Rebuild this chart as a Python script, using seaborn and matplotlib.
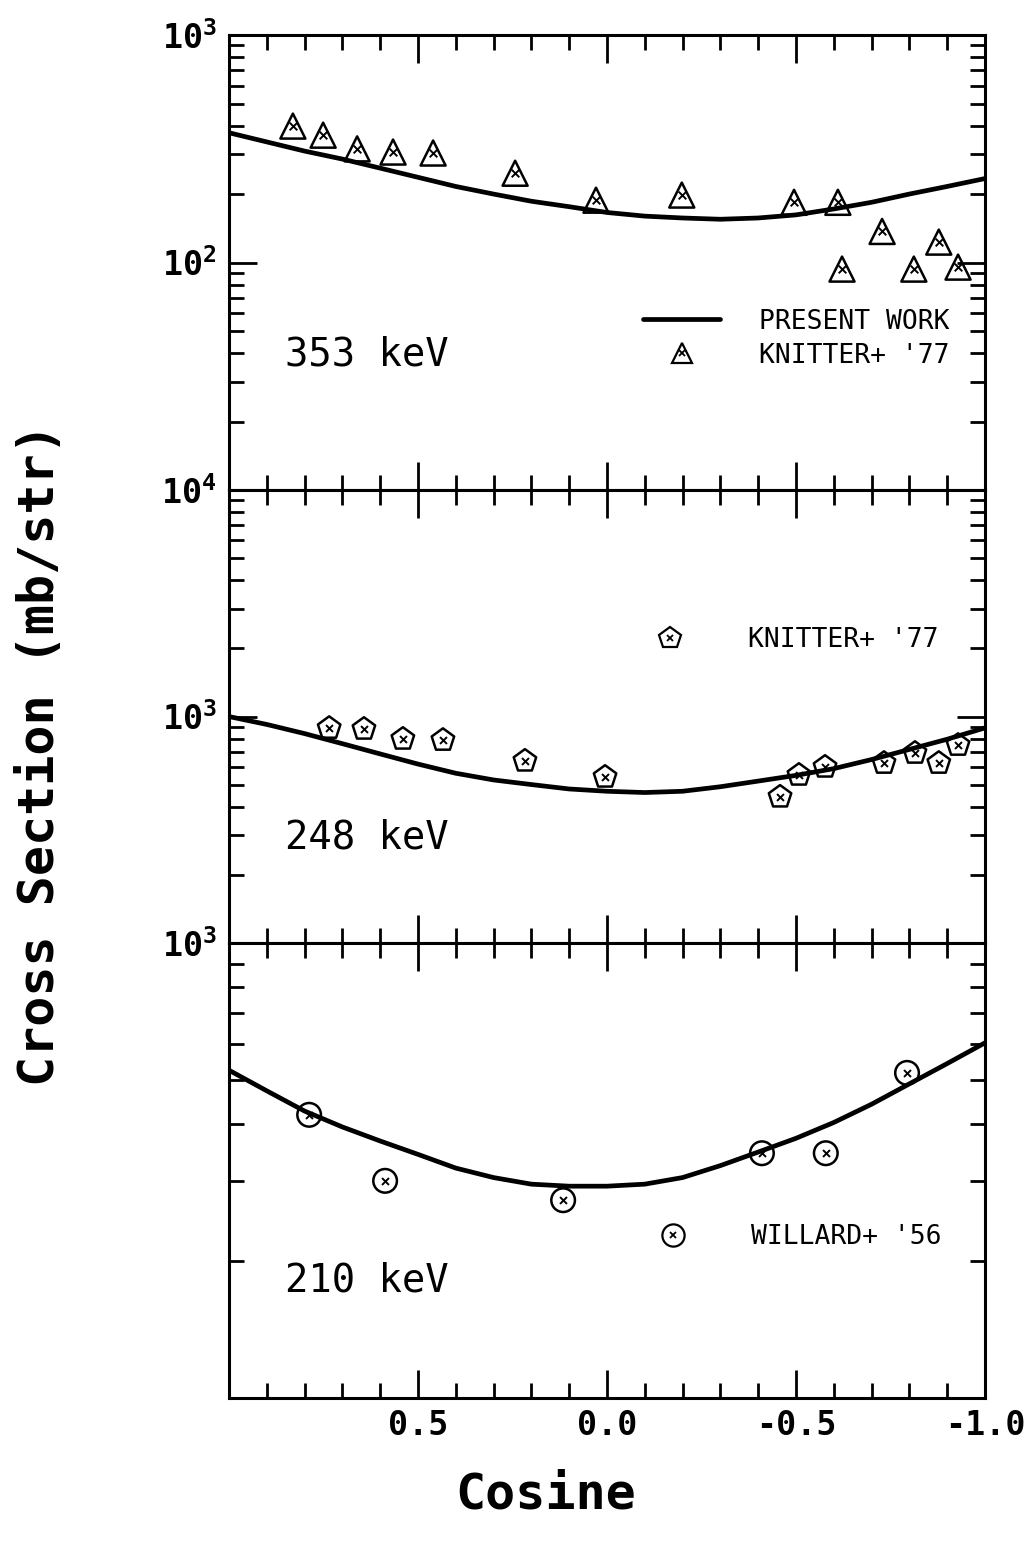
import matplotlib
matplotlib.use("Agg")
import matplotlib.pyplot as plt
import seaborn as sns
from matplotlib.lines import Line2D
from matplotlib.legend_handler import HandlerTuple
from matplotlib.ticker import MultipleLocator, LogLocator, NullFormatter

# ---- data ----
cosine_grid = [1.0, 0.9, 0.8, 0.7, 0.6, 0.5, 0.4, 0.3, 0.2, 0.1, 0.0,
               -0.1, -0.2, -0.3, -0.4, -0.5, -0.6, -0.7, -0.8, -0.9, -1.0]

curve_353 = [372, 339, 309, 285, 260, 237, 216, 200, 186, 176, 166,
             160, 157, 155, 157, 162, 172, 184, 200, 216, 234]
curve_248 = [1000, 923, 841, 759, 684, 617, 562, 525, 501, 479, 468,
             462, 468, 490, 519, 550, 589, 646, 716, 794, 891]
curve_210 = [525, 473, 427, 394, 367, 343, 320, 305, 295, 292, 292,
             295, 305, 324, 347, 372, 403, 442, 490, 543, 603]

knitter_353_cos = [0.831, 0.751, 0.661, 0.566, 0.460, 0.243, 0.029, -0.198,
                   -0.495, -0.611, -0.622, -0.728, -0.812, -0.878, -0.929]
knitter_353_val = [398, 363, 316, 306, 303, 247, 188, 198,
                   184, 184, 93.6, 137, 93.6, 123, 95.5]

knitter_248_cos = [0.735, 0.643, 0.540, 0.434, 0.217, 0.005, -0.458,
                   -0.508, -0.577, -0.733, -0.815, -0.878, -0.929]
knitter_248_val = [889, 881, 796, 787, 637, 541, 442,
                   552, 599, 623, 690, 623, 748]

willard_210_cos = [0.788, 0.587, 0.116, -0.410, -0.579, -0.794]
willard_210_val = [419, 300, 272, 345, 345, 518]

xtick_vals = [1.0, 0.5, 0.0, -0.5, -1.0]
xtick_labels = ["", "0.5", "0.0", "-0.5", "-1.0"]

sns.set_style("ticks")
plt.rcParams.update({
    "font.family": ["DejaVu Sans Mono", "DejaVu Sans"],
    "mathtext.fontset": "custom",
    "mathtext.tt": "DejaVu Sans Mono:bold",
    "mathtext.rm": "DejaVu Sans Mono:bold",
    "axes.linewidth": 2.2,
    "text.color": "black",
    "xtick.color": "black",
    "ytick.color": "black",
    "axes.labelcolor": "black",
})

fig = plt.figure(figsize=(10.27, 15.44), dpi=100)
left, width = 0.223, 0.736
ax_top = fig.add_axes([left, 0.6826, width, 0.2947])
ax_mid = fig.add_axes([left, 0.3892, width, 0.2934])
ax_bot = fig.add_axes([left, 0.0946, width, 0.2947])

lw_curve = 3.4
mk_kw = dict(color="none", edgecolor="black", linewidth=1.8, zorder=3, legend=False)
x_kw = dict(color="black", linewidth=1.4, zorder=4, legend=False)


def style_axis(ax, ylim):
    ax.set_yscale("log")
    ax.set_ylim(*ylim)
    ax.set_xlim(1.0, -1.0)
    ax.xaxis.set_major_locator(MultipleLocator(0.5))
    ax.xaxis.set_minor_locator(MultipleLocator(0.1))
    ax.yaxis.set_minor_locator(LogLocator(base=10, subs=range(2, 10)))
    ax.yaxis.set_minor_formatter(NullFormatter())
    ax.tick_params(which="both", direction="in", top=True, right=True,
                   width=2.0, colors="black")
    ax.tick_params(which="major", length=20)
    ax.tick_params(which="minor", length=11)
    ax.tick_params(axis="y", which="major", length=20, pad=9, labelsize=24)
    ax.set_xlabel("")
    ax.set_ylabel("")
    for s in ax.spines.values():
        s.set_linewidth(2.2)
        s.set_color("black")


# ---- 353 keV ----
sns.lineplot(x=cosine_grid, y=curve_353, ax=ax_top, color="black",
             linewidth=lw_curve, sort=False)
sns.scatterplot(x=knitter_353_cos, y=knitter_353_val, ax=ax_top,
                marker="^", s=18 ** 2, **mk_kw)
sns.scatterplot(x=knitter_353_cos, y=knitter_353_val, ax=ax_top,
                marker="x", s=30, **x_kw)
style_axis(ax_top, (10, 1000))
ax_top.set_yticks([1000, 100, 10], [r"$\mathtt{10^{3}}$", r"$\mathtt{10^{2}}$",
                                    r"$\mathtt{10^{4}}$"])
ax_top.set_xticks(xtick_vals, [""] * 5)
ax_top.text(0.074, 0.297, "353 keV", transform=ax_top.transAxes,
            fontsize=28, va="center", ha="left")
h_line = Line2D([], [], color="black", linewidth=lw_curve)
h_tri = (Line2D([], [], marker="^", ls="none", ms=15, mfc="none", mec="black", mew=1.6),
         Line2D([], [], marker="x", ls="none", ms=5, color="black", mew=1.3))
ax_top.legend([h_line, h_tri], ["PRESENT WORK", "KNITTER+ '77"],
              handler_map={tuple: HandlerTuple(ndivide=1)},
              loc="center left", bbox_to_anchor=(0.548, 0.333),
              frameon=False, fontsize=19, handlelength=2.9,
              handletextpad=1.5, labelspacing=0.3, borderpad=0, borderaxespad=0)

# ---- 248 keV ----
sns.lineplot(x=cosine_grid, y=curve_248, ax=ax_mid, color="black",
             linewidth=lw_curve, sort=False)
sns.scatterplot(x=knitter_248_cos, y=knitter_248_val, ax=ax_mid,
                marker="p", s=17 ** 2, **mk_kw)
sns.scatterplot(x=knitter_248_cos, y=knitter_248_val, ax=ax_mid,
                marker="x", s=25, **x_kw)
style_axis(ax_mid, (100, 10000))
ax_mid.set_yticks([10000, 1000, 100], ["", r"$\mathtt{10^{3}}$",
                                       r"$\mathtt{10^{3}}$"])
ax_mid.set_xticks(xtick_vals, [""] * 5)
ax_mid.text(0.074, 0.232, "248 keV", transform=ax_mid.transAxes,
            fontsize=28, va="center", ha="left")
h_pent = (Line2D([], [], marker="p", ls="none", ms=16, mfc="none", mec="black", mew=1.6),
          Line2D([], [], marker="x", ls="none", ms=5, color="black", mew=1.3))
ax_mid.legend([h_pent], ["KNITTER+ '77"],
              handler_map={tuple: HandlerTuple(ndivide=1)},
              loc="center left", bbox_to_anchor=(0.533, 0.669),
              frameon=False, fontsize=19, handlelength=2.9,
              handletextpad=1.5, borderpad=0, borderaxespad=0)

# ---- 210 keV ----
sns.lineplot(x=cosine_grid, y=curve_210, ax=ax_bot, color="black",
             linewidth=lw_curve, sort=False)
sns.scatterplot(x=willard_210_cos, y=willard_210_val, ax=ax_bot,
                marker="o", s=17 ** 2, **mk_kw)
sns.scatterplot(x=willard_210_cos, y=willard_210_val, ax=ax_bot,
                marker="x", s=25, **x_kw)
style_axis(ax_bot, (100, 1000))
ax_bot.set_yticks([1000, 100], ["", ""])
ax_bot.set_xticks(xtick_vals, xtick_labels)
ax_bot.tick_params(axis="x", which="both", top=True, pad=8, labelsize=24)
for lab in ax_bot.get_xticklabels():
    lab.set_fontweight("bold")
ax_bot.text(0.074, 0.259, "210 keV", transform=ax_bot.transAxes,
            fontsize=28, va="center", ha="left")
h_circ = (Line2D([], [], marker="o", ls="none", ms=16, mfc="none", mec="black", mew=1.6),
          Line2D([], [], marker="x", ls="none", ms=5, color="black", mew=1.3))
ax_bot.legend([h_circ], ["WILLARD+ '56"],
              handler_map={tuple: HandlerTuple(ndivide=1)},
              loc="center left", bbox_to_anchor=(0.537, 0.354),
              frameon=False, fontsize=19, handlelength=2.9,
              handletextpad=1.5, borderpad=0, borderaxespad=0)

fig.text(0.039, 0.511, "Cross Section (mb/str)", rotation=90,
         fontsize=36, fontweight="bold", ha="center", va="center")
fig.text(0.531, 0.032, "Cosine", fontsize=36, fontweight="bold",
         ha="center", va="center")

fig.savefig("out.png", dpi=100, facecolor="white")
